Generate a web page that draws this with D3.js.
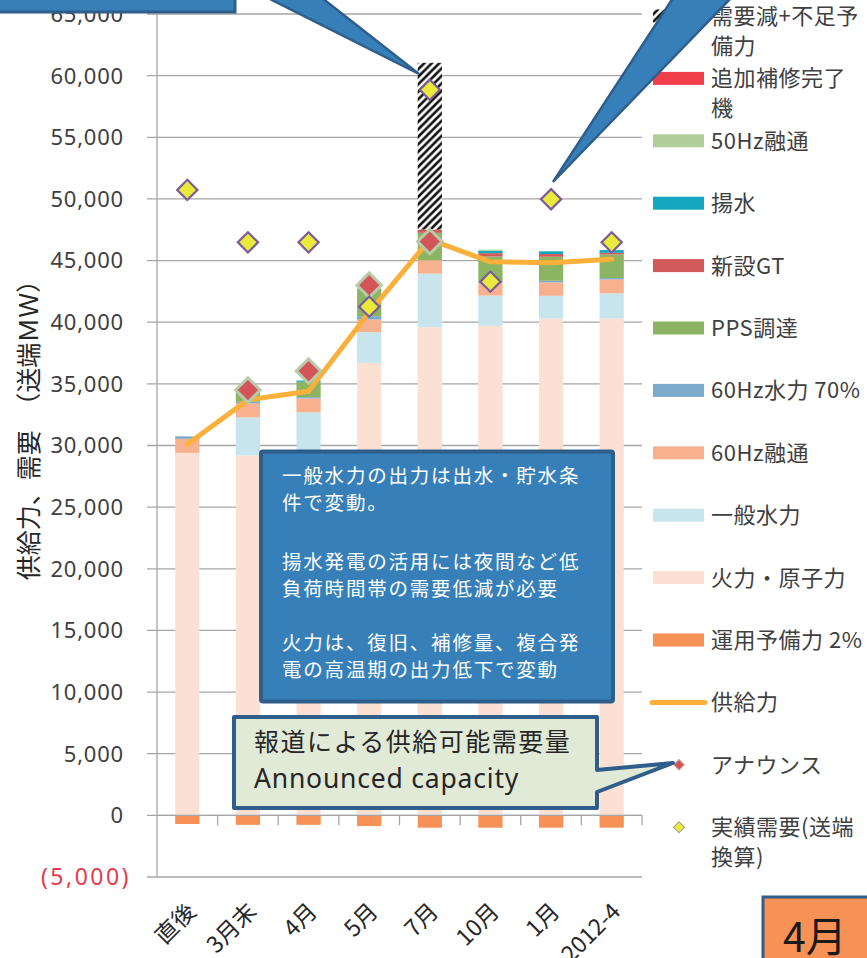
<!DOCTYPE html>
<html>
<head>
<meta charset="utf-8">
<script src="https://cdn.jsdelivr.net/npm/d3@7"></script>
<style>
  html, body { margin: 0; padding: 0; background: #fff; }
  svg { display: block; }
  text { font-family: "Noto Sans CJK JP", "Noto Sans", sans-serif; }
</style>
</head>
<body>
<svg id="chart" width="867" height="958"></svg>
<script>
// ---------- data ----------
const categories = ["直後", "3月末", "4月", "5月", "7月", "10月", "1月", "2012-4"];
const thermal       = [29400, 29200, 29600, 36700, 39600, 39700, 40300, 40300]; // 火力・原子力
const hydro         = [0, 3080, 3090, 2490, 4340, 2460, 1840, 2040];            // 一般水力
const interchange60 = [1140, 1140, 1130, 1030, 1090, 1000, 1090, 1130];         // 60Hz融通
const hydro60       = [200, 130, 100, 270, 0, 100, 130, 110];                   // 60Hz水力 70%
const pps           = [0, 850, 1250, 2250, 2220, 2070, 1950, 1920];             // PPS調達
const newGT         = [0, 0, 0, 0, 270, 270, 220, 130];                         // 新設GT
const pumped        = [0, 0, 100, 0, 0, 190, 220, 220];                         // 揚水
const interchange50 = [0, 0, 0, 0, 0, 100, 0, 0];                               // 50Hz融通
const extraRepair   = [0, 0, 0, 0, 0, 0, 0, 0];                                 // 追加補修完了機
const demandCut     = [0, 0, 0, 0, 13520, 0, 0, 0];                             // 需要減+不足予備力
const reserve       = [-700, -770, -770, -870, -1000, -1000, -1000, -1000];     // 運用予備力 2%
const supply        = [30100, 33700, 34400, 40800, 46700, 44900, 44830, 45100]; // 供給力
const announced     = [null, 34500, 36040, 43000, 46540, null, null, null];     // アナウンス
const actualDemand  = [50730, 46480, 46480, 41260, 58850, 43290, 49970, 46480]; // 実績需要(送端換算)
const yTicks = [-5000, 0, 5000, 10000, 15000, 20000, 25000, 30000, 35000, 40000, 45000, 50000, 55000, 60000, 65000];

const stackKeys = ["thermal", "hydro", "interchange60", "hydro60", "pps", "newGT", "pumped", "interchange50", "extraRepair", "demandCut"];
const seriesArrays = { thermal, hydro, interchange60, hydro60, pps, newGT, pumped, interchange50, extraRepair, demandCut };
const colors = {
  thermal: "#fce0d4", hydro: "#c8e5ed", interchange60: "#f8b18f", hydro60: "#7baacd",
  pps: "#8cb563", newGT: "#d35a5b", pumped: "#13a8be", interchange50: "#b1cf9a",
  extraRepair: "#ef3d49", demandCut: "url(#hatch)", reserve: "#f79155"
};

const legendItems = [
  { label: ["需要減+不足予", "備力"], key: "demandCut", type: "rect" },
  { label: ["追加補修完了", "機"], key: "extraRepair", type: "rect" },
  { label: ["50Hz融通"], key: "interchange50", type: "rect" },
  { label: ["揚水"], key: "pumped", type: "rect" },
  { label: ["新設GT"], key: "newGT", type: "rect" },
  { label: ["PPS調達"], key: "pps", type: "rect" },
  { label: ["60Hz水力 70%"], key: "hydro60", type: "rect" },
  { label: ["60Hz融通"], key: "interchange60", type: "rect" },
  { label: ["一般水力"], key: "hydro", type: "rect" },
  { label: ["火力・原子力"], key: "thermal", type: "rect" },
  { label: ["運用予備力 2%"], key: "reserve", type: "rect" },
  { label: ["供給力"], key: "supply", type: "line" },
  { label: ["アナウンス"], key: "announced", type: "announce" },
  { label: ["実績需要(送端", "換算)"], key: "actual", type: "actual" }
];

// ---------- setup ----------
const svg = d3.select("#chart");
const defs = svg.append("defs");
const pat = defs.append("pattern").attr("id", "hatch").attr("patternUnits", "userSpaceOnUse")
  .attr("width", 7.5).attr("height", 7.5);
pat.append("rect").attr("width", 7.5).attr("height", 7.5).attr("fill", "#fff");
pat.append("path").attr("d", "M-2,2 L2,-2 M0,7.5 L7.5,0 M5.5,9.5 L9.5,5.5")
  .attr("stroke", "#111").attr("stroke-width", 2.6);

const plotLeft = 157, plotRight = 642;
const x = d3.scaleBand().domain(categories).range([plotLeft, plotRight]).paddingInner(0.6).paddingOuter(0.3);
const y = d3.scaleLinear().domain([-5000, 65000]).range([877, 14]);
const step = x.step();

const rows = categories.map((c, i) => {
  const r = { cat: c };
  stackKeys.forEach(k => r[k] = seriesArrays[k][i]);
  return r;
});
const stacked = d3.stack().keys(stackKeys)(rows);

// gridlines
svg.append("g").selectAll("line").data(yTicks).join("line")
  .attr("x1", plotLeft - 10).attr("x2", plotRight)
  .attr("y1", d => y(d)).attr("y2", d => y(d))
  .attr("stroke", "#a6a6a6").attr("stroke-width", 1.3);

// y axis line
svg.append("line").attr("x1", plotLeft).attr("x2", plotLeft)
  .attr("y1", y(65000)).attr("y2", y(-5000)).attr("stroke", "#a6a6a6").attr("stroke-width", 1.3);

// y tick labels
const fmt = d3.format(",");
svg.append("g").selectAll("text").data(yTicks).join("text")
  .attr("x", d => d < 0 ? 131 : 124).attr("y", d => y(d)).attr("dy", "0.36em")
  .attr("text-anchor", "end").attr("font-size", d => d < 0 ? 23 : 22)
  .attr("letter-spacing", d => d < 0 ? 2.5 : 0.8)
  .attr("fill", d => d < 0 ? "#e63a4c" : "#404040")
  .style("font-family", "'Noto Sans', sans-serif")
  .text(d => d < 0 ? "(" + fmt(-d) + ")" : fmt(d));

// y axis title
svg.append("text").attr("transform", "translate(29,424) rotate(-90)")
  .attr("text-anchor", "middle").attr("dy", "0.36em").attr("font-size", 25)
  .attr("fill", "#262626").text("供給力、需要　（送端ＭＷ）");

// bars
const barG = svg.append("g");
stacked.forEach(s => {
  barG.append("g").selectAll("rect").data(s).join("rect")
    .attr("x", d => x(d.data.cat)).attr("width", x.bandwidth())
    .attr("y", d => y(d[1])).attr("height", d => Math.max(0, y(d[0]) - y(d[1])))
    .attr("fill", colors[s.key]);
});
barG.append("g").selectAll("rect").data(reserve).join("rect")
  .attr("x", (d, i) => x(categories[i])).attr("width", x.bandwidth())
  .attr("y", y(0)).attr("height", d => y(d) - y(0))
  .attr("fill", colors.reserve);

// x axis at zero with ticks at category boundaries
svg.append("line").attr("x1", plotLeft).attr("x2", plotRight)
  .attr("y1", y(0)).attr("y2", y(0)).attr("stroke", "#a6a6a6").attr("stroke-width", 1.3);
svg.append("g").selectAll("line").data(d3.range(1, categories.length + 1)).join("line")
  .attr("x1", i => plotLeft + i * step).attr("x2", i => plotLeft + i * step)
  .attr("y1", y(0)).attr("y2", y(0) + 10).attr("stroke", "#a6a6a6").attr("stroke-width", 1.3);

// x labels
svg.append("g").selectAll("text").data(categories).join("text")
  .attr("transform", d => `translate(${x(d) + x.bandwidth() / 2 + 10},${913}) rotate(-45)`)
  .attr("text-anchor", "end").attr("font-size", 23).attr("fill", "#262626")
  .text(d => d);

// supply line
const line = d3.line().x((d, i) => x(categories[i]) + x.bandwidth() / 2).y(d => y(d));
svg.append("path").datum(supply).attr("d", line)
  .attr("fill", "none").attr("stroke", "#fbb03b").attr("stroke-width", 5)
  .attr("stroke-linejoin", "round").attr("stroke-linecap", "round");

// diamonds
const diamond = (size) => d3.symbol(d3.symbolSquare, size)();
svg.append("g").selectAll("path").data(announced.map((v, i) => ({ v, i })).filter(d => d.v != null)).join("path")
  .attr("d", diamond(300))
  .attr("transform", d => `translate(${x(categories[d.i]) + x.bandwidth() / 2},${y(d.v)}) rotate(45)`)
  .attr("fill", "#d3555a").attr("stroke", "#b8cba8").attr("stroke-width", 3);
svg.append("g").selectAll("path").data(actualDemand).join("path")
  .attr("d", diamond(205))
  .attr("transform", (d, i) => `translate(${x(categories[i]) + x.bandwidth() / 2},${y(d)}) rotate(45)`)
  .attr("fill", "#eaea3a").attr("stroke", "#7a5b9c").attr("stroke-width", 2.2);

// legend
const legY0 = 16, legStep = 62.4;
const lg = svg.append("g");
legendItems.forEach((it, i) => {
  const cy = legY0 + i * legStep;
  const g = lg.append("g");
  if (it.type === "rect") {
    g.append("rect").attr("x", 653).attr("y", cy - 6.5).attr("width", 51).attr("height", 13)
      .attr("fill", colors[it.key]);
  } else if (it.type === "line") {
    g.append("line").attr("x1", 652).attr("x2", 705).attr("y1", cy).attr("y2", cy)
      .attr("stroke", "#fbb03b").attr("stroke-width", 5).attr("stroke-linecap", "round");
  } else if (it.type === "announce") {
    g.append("path").attr("d", diamond(60)).attr("transform", `translate(679,${cy}) rotate(45)`)
      .attr("fill", "#d3555a").attr("stroke", "#c9b8b0").attr("stroke-width", 1);
  } else {
    g.append("path").attr("d", diamond(60)).attr("transform", `translate(679,${cy}) rotate(45)`)
      .attr("fill", "#eaea3a").attr("stroke", "#a89e8a").attr("stroke-width", 1);
  }
  it.label.forEach((t, j) => {
    g.append("text").attr("x", 711).attr("y", cy + j * 30).attr("dy", "0.36em")
      .attr("font-size", 22).attr("letter-spacing", 0.5).attr("fill", "#404040").text(t);
  });
});

// ---------- annotations ----------
const calloutBlue = "#377fb8", calloutEdge = "#2f5e8b";
// top-left box & pointer
svg.append("rect").attr("x", -10).attr("y", -20).attr("width", 245).attr("height", 32)
  .attr("fill", calloutBlue).attr("stroke", calloutEdge).attr("stroke-width", 3);
svg.append("path").attr("d", "M268,-2 L419,74 L322,-2 Z")
  .attr("fill", calloutBlue).attr("stroke", calloutEdge).attr("stroke-width", 2.5).attr("stroke-linejoin", "miter");
// top-right pointer
svg.append("path").attr("d", "M673,-2 L553,182 L731,-2 Z")
  .attr("fill", calloutBlue).attr("stroke", calloutEdge).attr("stroke-width", 2.5);

// middle text box
svg.append("rect").attr("x", 261).attr("y", 451.5).attr("width", 352).attr("height", 250).attr("rx", 2)
  .attr("fill", calloutBlue).attr("stroke", calloutEdge).attr("stroke-width", 4);
const boxLines = [
  ["一般水力の出力は出水・貯水条", 476],
  ["件で変動。", 503],
  ["揚水発電の活用には夜間など低", 562],
  ["負荷時間帯の需要低減が必要", 589],
  ["火力は、復旧、補修量、複合発", 643],
  ["電の高温期の出力低下で変動", 670]
];
svg.append("g").selectAll("text").data(boxLines).join("text")
  .attr("x", 282).attr("y", d => d[1]).attr("dy", "0.36em")
  .attr("font-size", 19.5).attr("letter-spacing", 1.8).attr("fill", "#fff").text(d => d[0]);

// green callout
svg.append("path")
  .attr("d", "M234,717 L597,717 L597,770 L673,763 L597,792 L597,808 L234,808 Z")
  .attr("fill", "#e1e9d7").attr("stroke", calloutEdge).attr("stroke-width", 4).attr("stroke-linejoin", "round");
svg.append("text").attr("x", 254).attr("y", 742).attr("dy", "0.36em")
  .attr("font-size", 25).attr("letter-spacing", 1.5).attr("fill", "#262626").text("報道による供給可能需要量");
svg.append("text").attr("x", 254).attr("y", 778).attr("dy", "0.36em")
  .attr("font-size", 26.5).attr("letter-spacing", 0.8).attr("fill", "#262626")
  .style("font-family", "'Noto Sans', sans-serif").text("Announced capacity");

// bottom-right orange box
svg.append("rect").attr("x", 763).attr("y", 897).attr("width", 120).attr("height", 80)
  .attr("fill", "#f79155").attr("stroke", calloutEdge).attr("stroke-width", 3);
svg.append("text").attr("x", 783).attr("y", 937).attr("dy", "0.36em")
  .attr("font-size", 41).attr("fill", "#1a1a1a").text("4月");
</script>
</body>
</html>
